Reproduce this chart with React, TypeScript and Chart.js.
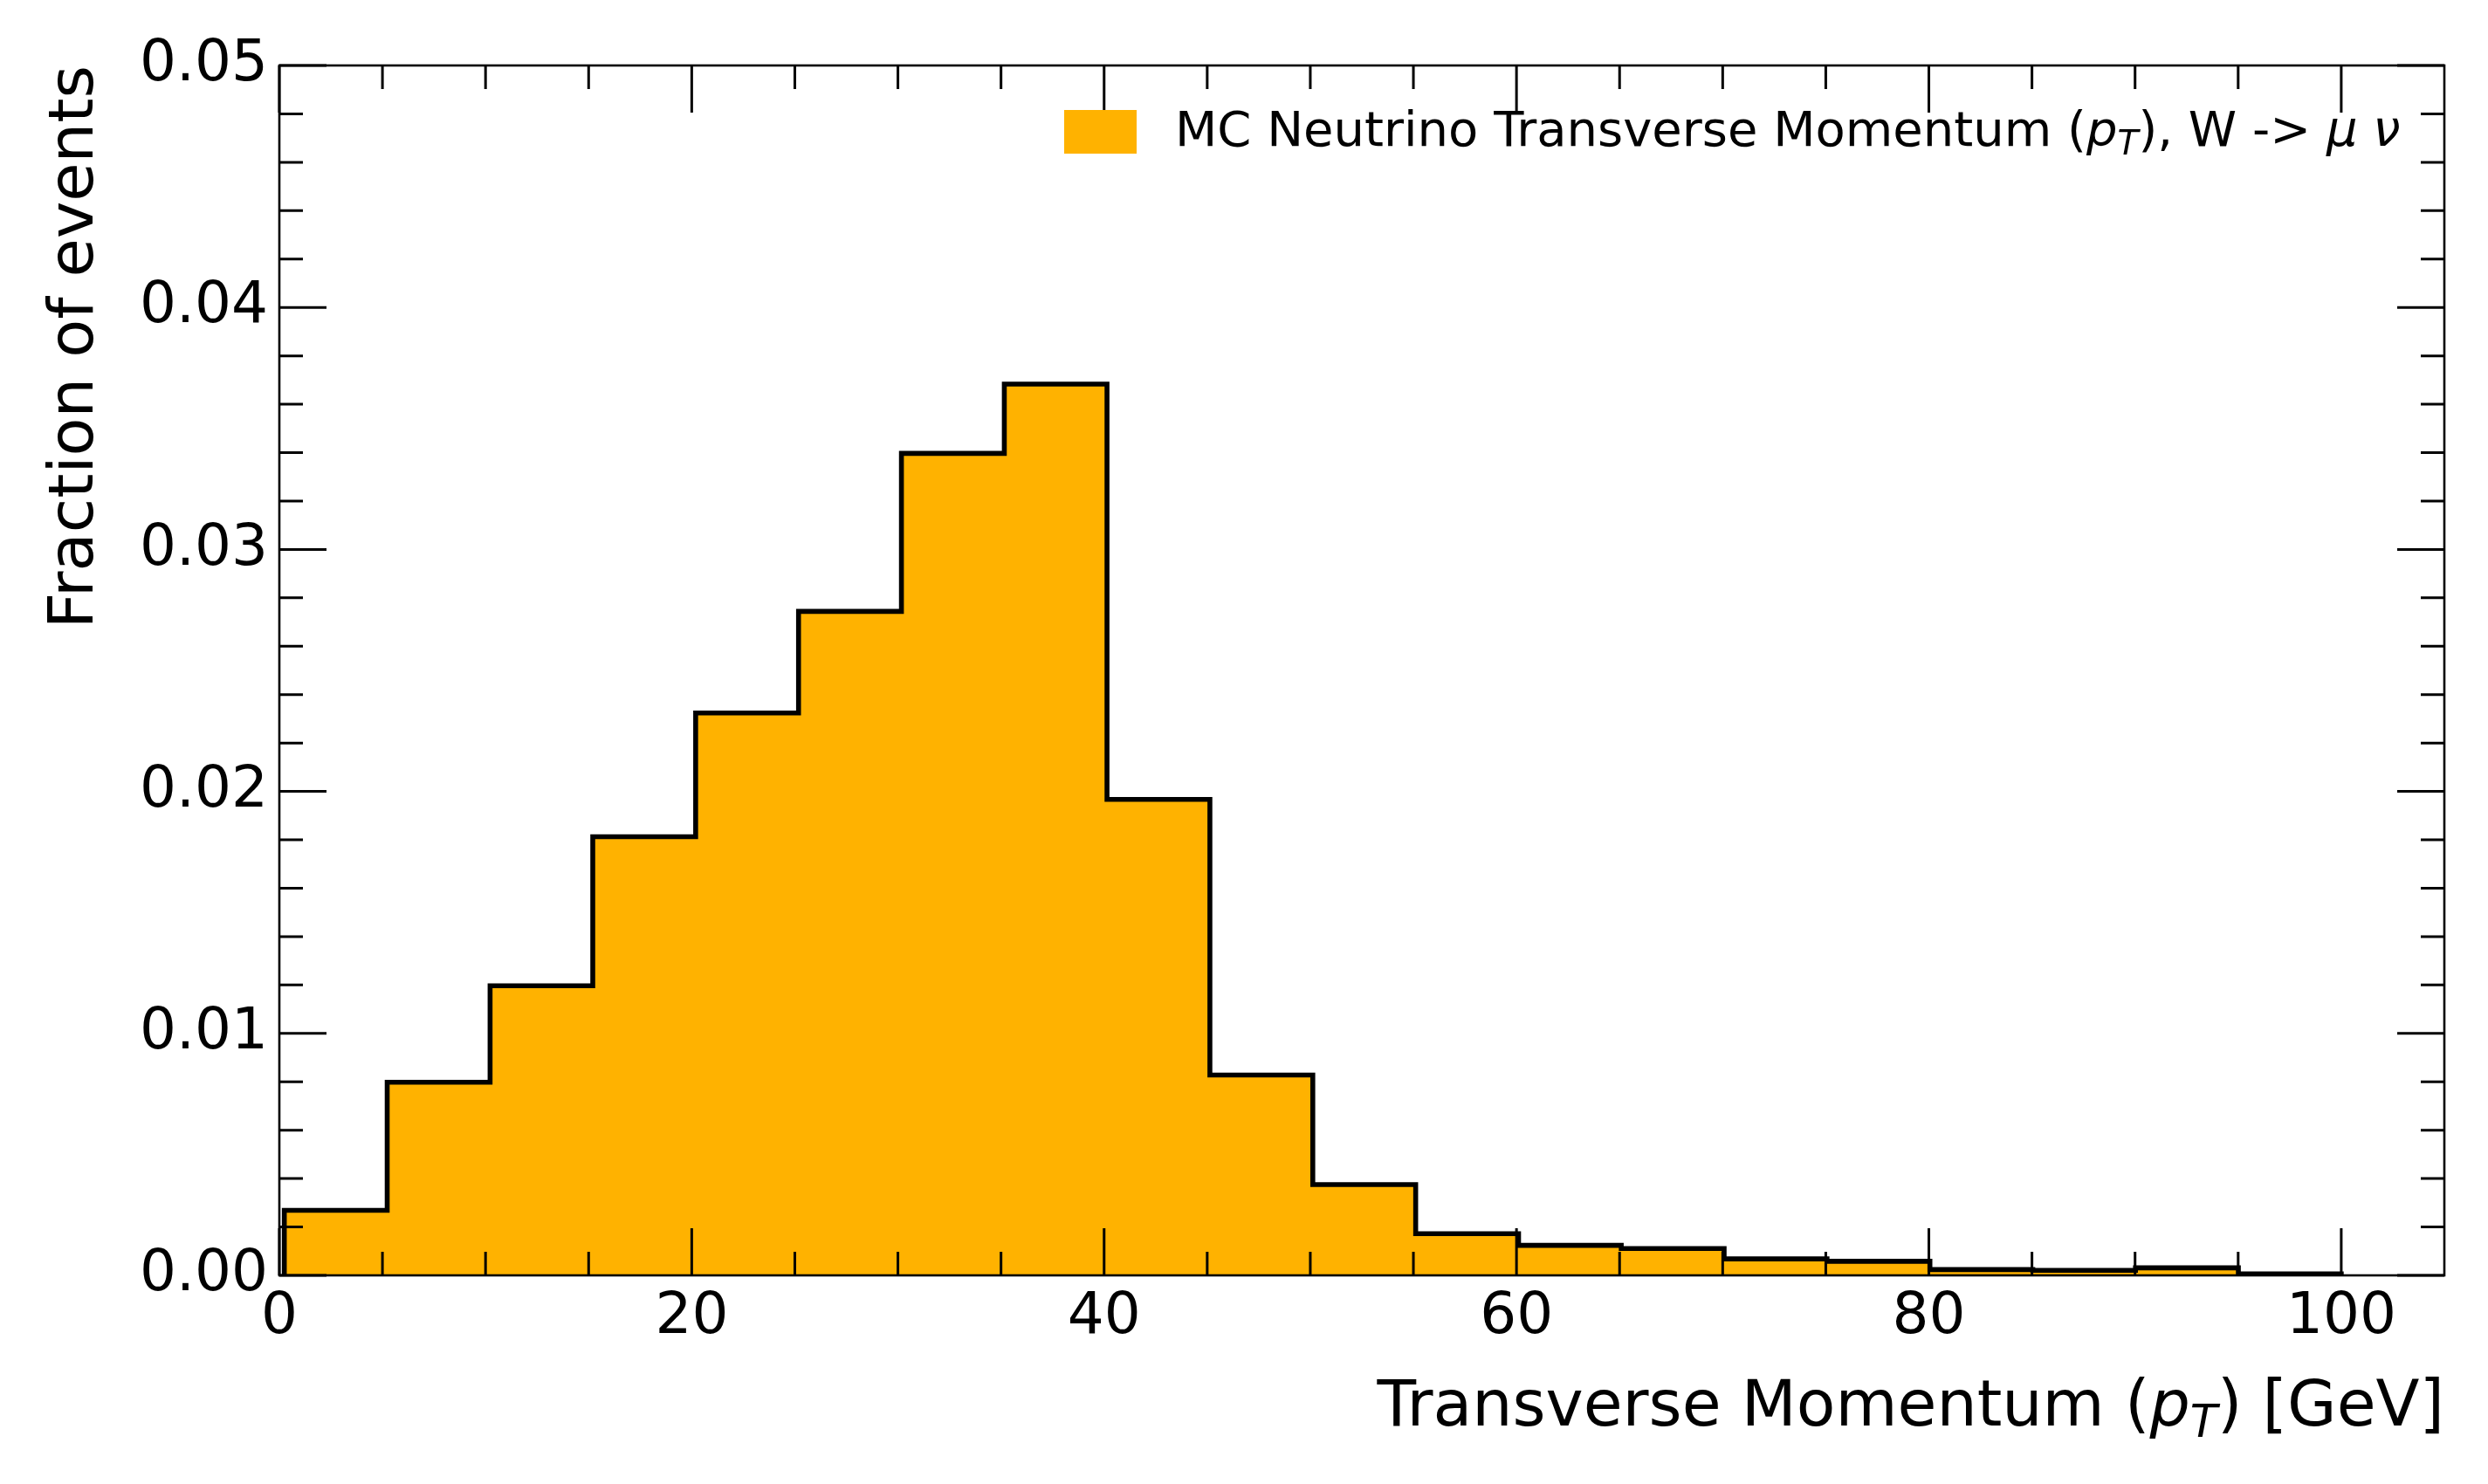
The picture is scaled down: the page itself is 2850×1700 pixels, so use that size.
import React, { useEffect, useRef } from "react";
import { Chart, registerables } from "chart.js";

Chart.register(...registerables);

// ---------------- data ----------------
const binEdges = [
  0.24, 5.23, 10.22, 15.2, 20.19, 25.18, 30.17, 35.16, 40.14, 45.13, 50.12,
  55.11, 60.1, 65.08, 70.07, 75.06, 80.05, 85.04, 90.02, 95.01, 100,
];
const binFractions = [
  0.00269, 0.00798, 0.01197, 0.01813, 0.02324, 0.02744, 0.03397, 0.03683,
  0.01967, 0.00828, 0.00375, 0.00172, 0.00124, 0.00111, 0.00068, 0.00058,
  0.00024, 0.00021, 0.00031, 0.00006,
];
const xTickValues = [0, 20, 40, 60, 80, 100];
const xMinorTickValues = [5, 10, 15, 25, 30, 35, 45, 50, 55, 65, 70, 75, 85, 90, 95];
const yTickValues = [0, 0.01, 0.02, 0.03, 0.04, 0.05];
const yMinorTickValues = [
  0.002, 0.004, 0.006, 0.008, 0.012, 0.014, 0.016, 0.018, 0.022, 0.024, 0.026,
  0.028, 0.032, 0.034, 0.036, 0.038, 0.042, 0.044, 0.046, 0.048,
];
const xLimits = [0, 105];
const yLimits = [0, 0.05];

type Seg = { t: string; i?: boolean; sub?: boolean };
const legendText: Seg[] = [
  { t: "MC Neutrino Transverse Momentum (" },
  { t: "p", i: true },
  { t: "T", i: true, sub: true },
  { t: "), W -> " },
  { t: "μ", i: true },
  { t: " " },
  { t: "ν", i: true },
];
const xTitle: Seg[] = [
  { t: "Transverse Momentum (" },
  { t: "p", i: true },
  { t: "T", i: true, sub: true },
  { t: ") [GeV]" },
];
const yTitle = "Fraction of events";

// ---------------- style ----------------
const FILL = "#ffb200";
const FONT = "'DejaVu Sans'";
const W = 2850;
const H = 1700;

function segFont(s: Seg, size: number) {
  const sz = s.sub ? size * 0.7 : size;
  return `${s.i ? "italic " : ""}${sz}px ${FONT}`;
}

function drawRich(
  ctx: CanvasRenderingContext2D,
  segs: Seg[],
  size: number,
  x: number,
  y: number,
  align: "left" | "right"
) {
  let total = 0;
  const widths = segs.map((s) => {
    ctx.font = segFont(s, size);
    const w = ctx.measureText(s.t).width;
    total += w;
    return w;
  });
  let cx = align === "right" ? x - total : x;
  ctx.textAlign = "left";
  ctx.textBaseline = "alphabetic";
  segs.forEach((s, k) => {
    ctx.font = segFont(s, size);
    ctx.fillText(s.t, cx, s.sub ? y + size * 0.18 : y);
    cx += widths[k];
  });
}

const decorPlugin = {
  id: "decor",
  afterDatasetsDraw(chart: any) {
    const ctx: CanvasRenderingContext2D = chart.ctx;
    const { left, right, top, bottom } = chart.chartArea;
    const xs = chart.scales.x;
    const ys = chart.scales.y;
    ctx.save();
    ctx.strokeStyle = "#000";
    ctx.lineCap = "butt";
    // frame
    ctx.lineWidth = 2.6;
    ctx.strokeRect(left, top, right - left, bottom - top);
    // ticks
    const MAJ = 54;
    const MIN = 27;
    ctx.lineWidth = 3;
    ctx.beginPath();
    const xt = (vals: number[], len: number) => {
      vals.forEach((v) => {
        const px = xs.getPixelForValue(v);
        ctx.moveTo(px, bottom);
        ctx.lineTo(px, bottom - len);
        ctx.moveTo(px, top);
        ctx.lineTo(px, top + len);
      });
    };
    const yt = (vals: number[], len: number) => {
      vals.forEach((v) => {
        const py = ys.getPixelForValue(v);
        ctx.moveTo(left, py);
        ctx.lineTo(left + len, py);
        ctx.moveTo(right, py);
        ctx.lineTo(right - len, py);
      });
    };
    xt(xTickValues, MAJ);
    xt(xMinorTickValues, MIN);
    yt(yTickValues, MAJ);
    yt(yMinorTickValues, MIN);
    ctx.stroke();

    // legend
    ctx.fillStyle = FILL;
    ctx.fillRect(1219, 126, 83, 50);
    ctx.fillStyle = "#000";
    drawRich(ctx, legendText, 56, 1346, 167, "left");

    // x title
    drawRich(ctx, xTitle, 73, right, 1633, "right");

    // y title
    ctx.save();
    ctx.translate(106, top);
    ctx.rotate(-Math.PI / 2);
    ctx.font = `72px ${FONT}`;
    ctx.textAlign = "right";
    ctx.textBaseline = "alphabetic";
    ctx.fillText(yTitle, 0, 0);
    ctx.restore();

    ctx.restore();
  },
};

export default function App() {
  const ref = useRef<HTMLCanvasElement>(null);

  useEffect(() => {
    if (!ref.current) return;
    const histPoints = [
      { x: binEdges[0], y: 0 },
      ...binFractions.map((v, i) => ({ x: binEdges[i], y: v })),
      { x: binEdges[binEdges.length - 1], y: 0 },
    ];
    const basePoints = [
      { x: binEdges[0], y: 0 },
      { x: binEdges[binEdges.length - 1], y: 0 },
    ];
    const chart = new Chart(ref.current, {
      type: "line",
      data: {
        datasets: [
          {
            data: histPoints,
            stepped: "before",
            fill: "origin",
            backgroundColor: FILL,
            borderColor: "#000",
            borderWidth: 5.6,
            borderJoinStyle: "miter",
            borderCapStyle: "butt",
            pointRadius: 0,
            tension: 0,
          },
          {
            data: basePoints,
            fill: false,
            borderColor: "#000",
            borderWidth: 5.6,
            borderCapStyle: "butt",
            pointRadius: 0,
          },
        ],
      },
      options: {
        responsive: false,
        animation: false,
        devicePixelRatio: 1,
        events: [],
        layout: { padding: { top: 75, right: 50, left: 0, bottom: 0 } },
        plugins: { legend: { display: false }, tooltip: { enabled: false } },
        scales: {
          x: {
            type: "linear",
            min: xLimits[0],
            max: xLimits[1],
            afterBuildTicks: (s: any) => {
              s.ticks = xTickValues.map((v) => ({ value: v }));
            },
            afterFit: (s: any) => {
              s.height = 239;
            },
            grid: { display: false, drawTicks: false },
            border: { display: false },
            ticks: {
              font: { family: "DejaVu Sans", size: 66 },
              color: "#000",
              padding: 9,
              maxRotation: 0,
              autoSkip: false,
              callback: (v: any) => String(v),
            },
          },
          y: {
            type: "linear",
            min: yLimits[0],
            max: yLimits[1],
            afterBuildTicks: (s: any) => {
              s.ticks = yTickValues.map((v) => ({ value: v }));
            },
            afterFit: (s: any) => {
              s.width = 320;
            },
            grid: { display: false, drawTicks: false },
            border: { display: false },
            ticks: {
              font: { family: "DejaVu Sans", size: 66 },
              color: "#000",
              padding: 13,
              autoSkip: false,
              callback: (v: any) => Number(v).toFixed(2),
            },
          },
        },
      } as any,
      plugins: [decorPlugin],
    });
    return () => chart.destroy();
  }, []);

  return (
    <div
      style={{
        position: "absolute",
        left: 0,
        top: 0,
        width: W,
        height: H,
        background: "#fff",
      }}
    >
      <canvas ref={ref} width={W} height={H} style={{ display: "block", width: W, height: H }} />
    </div>
  );
}
